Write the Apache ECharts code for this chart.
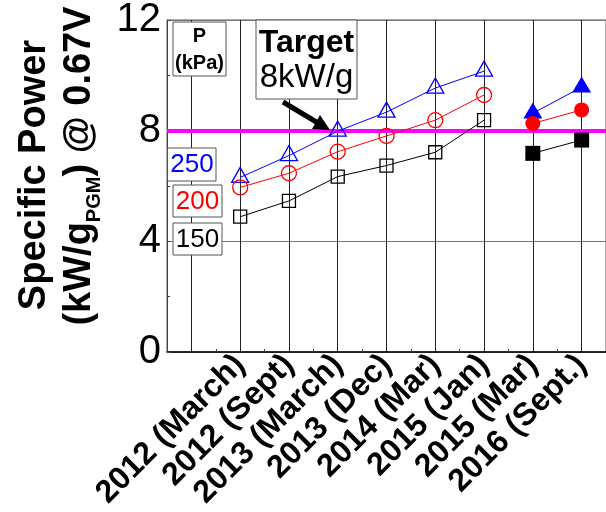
<!DOCTYPE html>
<html>
<head>
<meta charset="utf-8">
<script src="https://cdn.jsdelivr.net/npm/echarts@6/dist/echarts.min.js"></script>
<style>
html,body{margin:0;padding:0;background:#fff;}
#chart{width:606px;height:512px;}
</style>
</head>
<body>
<div id="chart"></div>
<script>
// ---- data ----
var categories = ['', '2012 (March)', '2012 (Sept)', '2013 (March)', '2013 (Dec)', '2014 (Mar)', '2015 (Jan)', '2015 (Mar)', '2016 (Sept.)'];
var yTicks = [0, 4, 8, 12];
var p250Open   = [null, 6.31, 7.10, 7.98, 8.67, 9.54, 10.15, null, null];
var p200Open   = [null, 5.95, 6.46, 7.24, 7.81, 8.38, 9.29, null, null];
var p150Open   = [null, 4.89, 5.46, 6.34, 6.74, 7.22, 8.38, null, null];
var p250Filled = [null, null, null, null, null, null, null, 8.63, 9.57];
var p200Filled = [null, null, null, null, null, null, null, 8.26, 8.75];
var p150Filled = [null, null, null, null, null, null, null, 7.18, 7.66];
var targetValue = 8;
var pressureNames = ['250', '200', '150'];

var FONT = '"Liberation Sans", Arial, sans-serif';
var chart = echarts.init(document.getElementById('chart'), null, {renderer: 'canvas'});

function lineSeries(name, data, color, symbol, size, filled, offset) {
  return {
    name: name, type: 'line', data: data, connectNulls: false,
    symbol: symbol, symbolSize: size, symbolOffset: offset || [0, 0],
    showSymbol: true, silent: true, animation: false,
    lineStyle: {color: color, width: 1},
    itemStyle: filled ? {color: color, borderColor: color, borderWidth: 0}
                      : {color: 'rgba(0,0,0,0)', borderColor: color, borderWidth: 1.3},
    z: 5
  };
}

var series = [
  lineSeries('250', p250Open, '#0000ff', 'triangle', [17, 15], false, [0, -2.5]),
  lineSeries('200', p200Open, '#ff0000', 'circle', 15, false),
  lineSeries('150', p150Open, '#000000', 'rect', 13, false),
  lineSeries('250f', p250Filled, '#0000ff', 'triangle', [19, 16], true, [0, -2.7]),
  lineSeries('200f', p200Filled, '#ff0000', 'circle', 15, true),
  lineSeries('150f', p150Filled, '#000000', 'rect', 15, true)
];
series.push({
  type: 'line', data: [], silent: true,
  markLine: {
    silent: true, symbol: ['none', 'none'], label: {show: false},
    lineStyle: {color: '#ff00ff', width: 4, type: 'solid'},
    data: [{yAxis: targetValue}]
  },
  z: 4
});

var option = {
  animation: false,
  backgroundColor: '#ffffff',
  grid: {left: 167, top: 20, width: 443, height: 332, show: true, borderColor: '#555', borderWidth: 1, backgroundColor: 'transparent'},
  xAxis: {
    type: 'category', data: categories, boundaryGap: true,
    axisLine: {show: true, lineStyle: {color: '#000', width: 1.5}},
    axisTick: {show: true, inside: true, length: 3, lineStyle: {color: '#444'}},
    axisLabel: {
      interval: 0, rotate: 45, margin: 8, color: '#000',
      fontFamily: FONT, fontWeight: 'bold', fontSize: 32
    },
    splitLine: {show: true, alignWithLabel: true, lineStyle: {color: '#222', width: 1}}
  },
  yAxis: {
    type: 'value', min: yTicks[0], max: yTicks[yTicks.length - 1], interval: 4,
    axisLine: {show: true, lineStyle: {color: '#444', width: 1}},
    axisTick: {show: true, inside: true, length: 4, lineStyle: {color: '#444'}},
    minorTick: {show: true, splitNumber: 2, length: 3, lineStyle: {color: '#444'}},
    axisLabel: {color: '#000', fontFamily: FONT, fontSize: 40, margin: 6},
    splitLine: {show: true, lineStyle: {color: '#777', width: 1}}
  },
  series: series,
  graphic: [
    // y-axis title, two rotated lines
    {type: 'text', x: 35, y: 175, rotation: Math.PI / 2, z: 10,
     style: {text: 'Specific Power', font: 'bold 38px ' + FONT, fill: '#000', align: 'center', verticalAlign: 'middle'}},
    {type: 'text', x: 80, y: 166, rotation: Math.PI / 2, z: 10,
     style: {
       text: '{m|(kW/g}{s|PGM}{m|) @ 0.67V}', align: 'center', verticalAlign: 'middle',
       rich: {
         m: {font: 'bold 38px ' + FONT, fill: '#000', lineHeight: 48, verticalAlign: 'middle'},
         s: {font: 'bold 20px ' + FONT, fill: '#000', lineHeight: 20, verticalAlign: 'bottom'}
       }
     }},
    // pressure legend
    {type: 'rect', shape: {x: 173, y: 22, width: 53, height: 54}, style: {fill: '#fff', stroke: '#555', lineWidth: 1}, z: 10},
    {type: 'text', x: 199.5, y: 36, z: 11, style: {text: 'P', font: 'bold 20px ' + FONT, fill: '#000', align: 'center', verticalAlign: 'middle'}},
    {type: 'text', x: 199.5, y: 63, z: 11, style: {text: '(kPa)', font: 'bold 20px ' + FONT, fill: '#000', align: 'center', verticalAlign: 'middle'}},
    {type: 'rect', shape: {x: 167.5, y: 148, width: 48.5, height: 33}, style: {fill: '#fff', stroke: '#555', lineWidth: 1}, z: 10},
    {type: 'text', x: 192, y: 165, z: 11, style: {text: pressureNames[0], font: '26px ' + FONT, fill: '#0000ff', align: 'center', verticalAlign: 'middle'}},
    {type: 'rect', shape: {x: 173, y: 185, width: 49, height: 32}, style: {fill: '#fff', stroke: '#555', lineWidth: 1}, z: 10},
    {type: 'text', x: 197.5, y: 202, z: 11, style: {text: pressureNames[1], font: '26px ' + FONT, fill: '#ff0000', align: 'center', verticalAlign: 'middle'}},
    {type: 'rect', shape: {x: 173, y: 223, width: 49, height: 32}, style: {fill: '#fff', stroke: '#555', lineWidth: 1}, z: 10},
    {type: 'text', x: 197.5, y: 240, z: 11, style: {text: pressureNames[2], font: '26px ' + FONT, fill: '#000', align: 'center', verticalAlign: 'middle'}},
    // target annotation
    {type: 'rect', shape: {x: 256, y: 20, width: 101, height: 79}, style: {fill: '#fff', stroke: '#555', lineWidth: 1}, z: 10},
    {type: 'text', x: 306.5, y: 43, z: 11, style: {text: 'Target', font: 'bold 32px ' + FONT, fill: '#000', align: 'center', verticalAlign: 'middle'}},
    {type: 'text', x: 306.5, y: 78, z: 11, style: {text: '8kW/g', font: '33px ' + FONT, fill: '#000', align: 'center', verticalAlign: 'middle'}},
    {type: 'line', shape: {x1: 283, y1: 102, x2: 318, y2: 123}, style: {stroke: '#000', lineWidth: 5}, z: 11},
    {type: 'polygon', shape: {points: [[330, 130], [312, 129], [320, 115]]}, style: {fill: '#000'}, z: 11}
  ]
};
chart.setOption(option);
</script>
</body>
</html>
